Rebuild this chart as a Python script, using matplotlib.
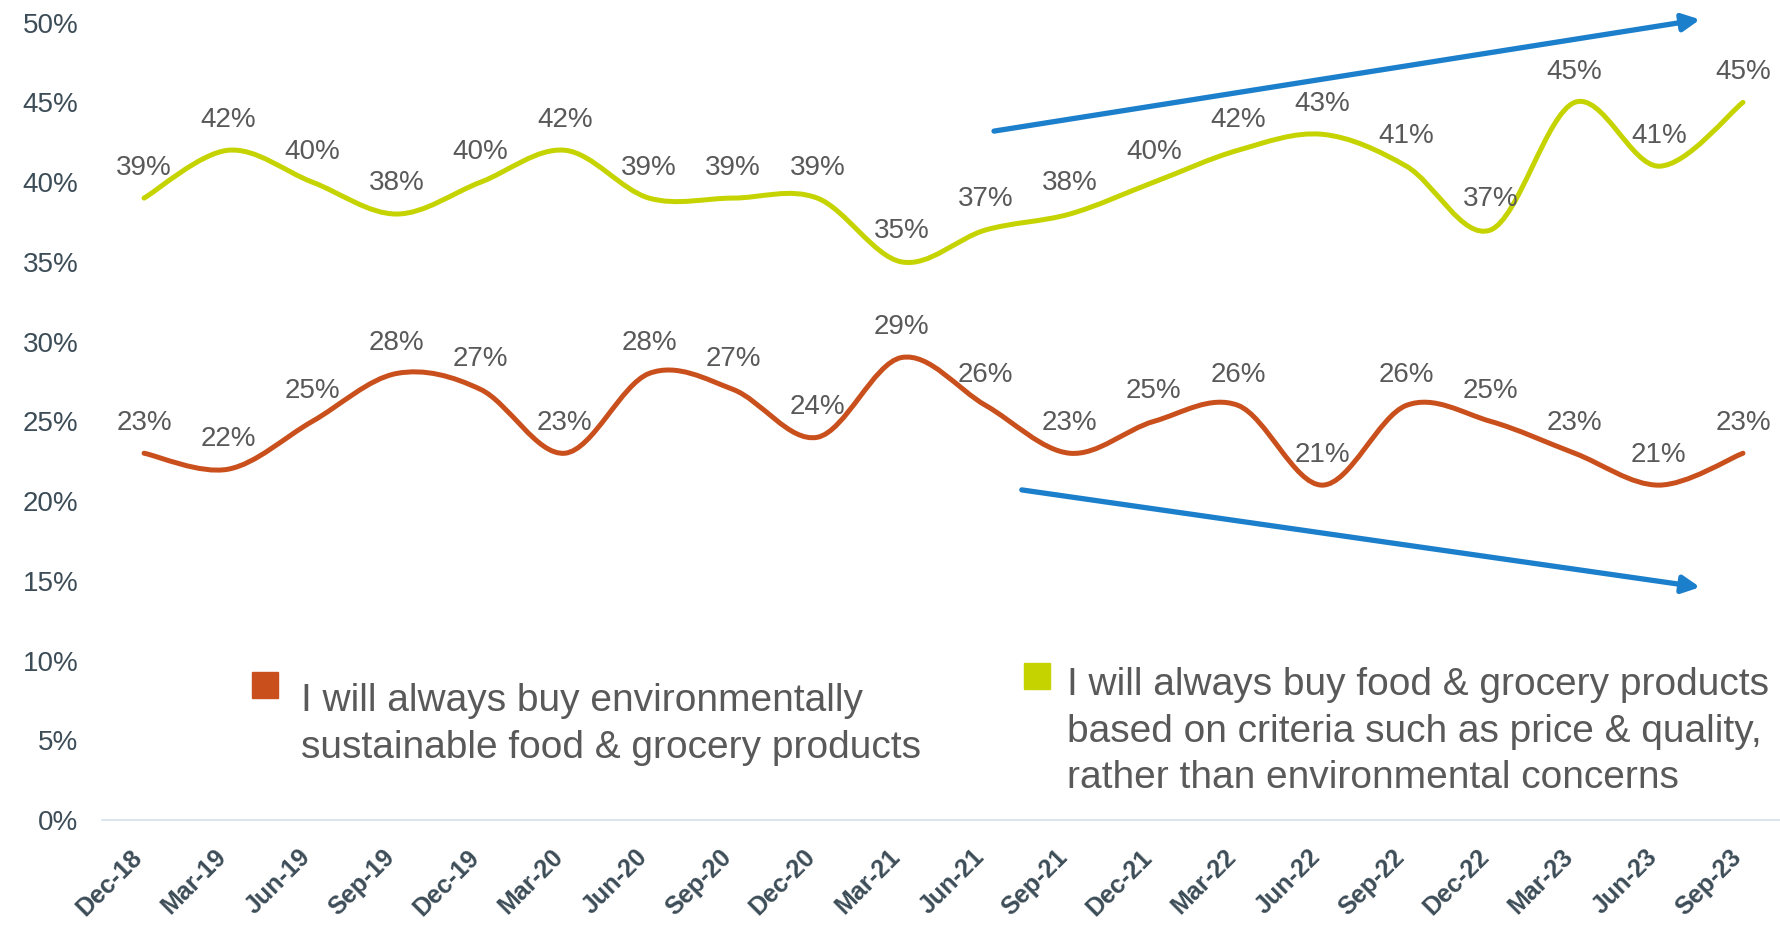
import matplotlib
matplotlib.use("Agg")
import matplotlib.pyplot as plt
import matplotlib.transforms as mtransforms
from matplotlib.path import Path
from matplotlib.patches import PathPatch, Rectangle
import numpy as np

plt.rcParams['font.family'] = ['Liberation Sans', 'DejaVu Sans']

quarters = ["Dec-18", "Mar-19", "Jun-19", "Sep-19", "Dec-19", "Mar-20", "Jun-20",
            "Sep-20", "Dec-20", "Mar-21", "Jun-21", "Sep-21", "Dec-21", "Mar-22",
            "Jun-22", "Sep-22", "Dec-22", "Mar-23", "Jun-23", "Sep-23"]
price_quality = [39, 42, 40, 38, 40, 42, 39, 39, 39, 35, 37, 38, 40, 42, 43, 41, 37, 45, 41, 45]
sustainable = [23, 22, 25, 28, 27, 23, 28, 27, 24, 29, 26, 23, 25, 26, 21, 26, 25, 23, 21, 23]

label_sustainable = "I will always buy environmentally\nsustainable food & grocery products"
label_price = ("I will always buy food & grocery products\n"
               "based on criteria such as price & quality,\n"
               "rather than environmental concerns")

ORANGE = "#c9501c"
YELLOW = "#c5d400"
BLUE = "#1b7fcb"
TEXT = "#595959"
AXIS_TEXT = "#3d4d58"


def smooth_path(xs, ys):
    # Bezier segments through every point, like a spreadsheet "smoothed line"
    pts = np.column_stack([xs, ys]).astype(float)
    verts = [pts[0]]
    codes = [Path.MOVETO]
    n = len(pts)
    for i in range(n - 1):
        p0 = pts[i - 1] if i > 0 else pts[i]
        p1 = pts[i]
        p2 = pts[i + 1]
        p3 = pts[i + 2] if i + 2 < n else pts[i + 1]
        c1 = p1 + (p2 - p0) / 6.0
        c2 = p2 - (p3 - p1) / 6.0
        verts += [c1, c2, p2]
        codes += [Path.CURVE4] * 3
    return Path(verts, codes)


fig = plt.figure(figsize=(17.8, 9.25), dpi=100)
ax = fig.add_axes([0.0573, 0.1135, 0.9427, 0.862])

x = np.arange(len(quarters))
for series, color in [(price_quality, YELLOW), (sustainable, ORANGE)]:
    ax.add_patch(PathPatch(smooth_path(x, series), facecolor="none",
                           edgecolor=color, lw=3.6, capstyle="round"))
    for xi, v in zip(x, series):
        ax.annotate(f"{v}%", (xi, v), xytext=(0, 22), textcoords="offset points",
                    ha="center", va="center", fontsize=20, color=TEXT)

# trend arrows
for start, end in [((10.1, 43.2), (18.49, 50.2)), ((10.43, 20.7), (18.49, 14.6))]:
    ax.annotate("", xy=end, xytext=start,
                arrowprops=dict(arrowstyle="-|>", color=BLUE, lw=3.8,
                                mutation_scale=26, shrinkA=0, shrinkB=0),
                annotation_clip=False)

ax.set_xlim(-0.5, 19.44)
ax.set_ylim(0, 50)
ax.set_yticks(range(0, 51, 5))
ax.set_yticklabels([f"{t}%" for t in range(0, 51, 5)], fontsize=20, color=AXIS_TEXT)
ax.set_xticks(x)
ax.set_xticklabels(quarters, rotation=45, ha="right", va="top", rotation_mode="anchor",
                   fontsize=18, fontweight="bold", color=AXIS_TEXT)
ax.tick_params(axis="both", length=0)
ax.tick_params(axis="y", pad=17)
ax.tick_params(axis="x", pad=18)
# nudge the slanted labels left so their ends sit under the ticks
shift = mtransforms.ScaledTranslation(-10 / 72, 0, fig.dpi_scale_trans)
for lbl in ax.get_xticklabels():
    lbl.set_transform(lbl.get_transform() + shift)
for side in ["top", "right", "left"]:
    ax.spines[side].set_visible(False)
ax.spines["bottom"].set_color("#d6e3ea")
ax.spines["bottom"].set_linewidth(1.2)

# legend blocks
fig.patches.append(Rectangle((252 / 1780, 1 - 698 / 925), 26 / 1780, 26 / 925,
                             transform=fig.transFigure, color=ORANGE))
fig.text(301 / 1780, 1 - 683 / 925, label_sustainable, ha="left", va="top",
         fontsize=28, color=TEXT, linespacing=1.39)
fig.patches.append(Rectangle((1024 / 1780, 1 - 689 / 925), 26 / 1780, 26 / 925,
                             transform=fig.transFigure, color=YELLOW))
fig.text(1067 / 1780, 1 - 667 / 925, label_price, ha="left", va="top",
         fontsize=28, color=TEXT, linespacing=1.38)

fig.savefig("out.png", dpi=100)
